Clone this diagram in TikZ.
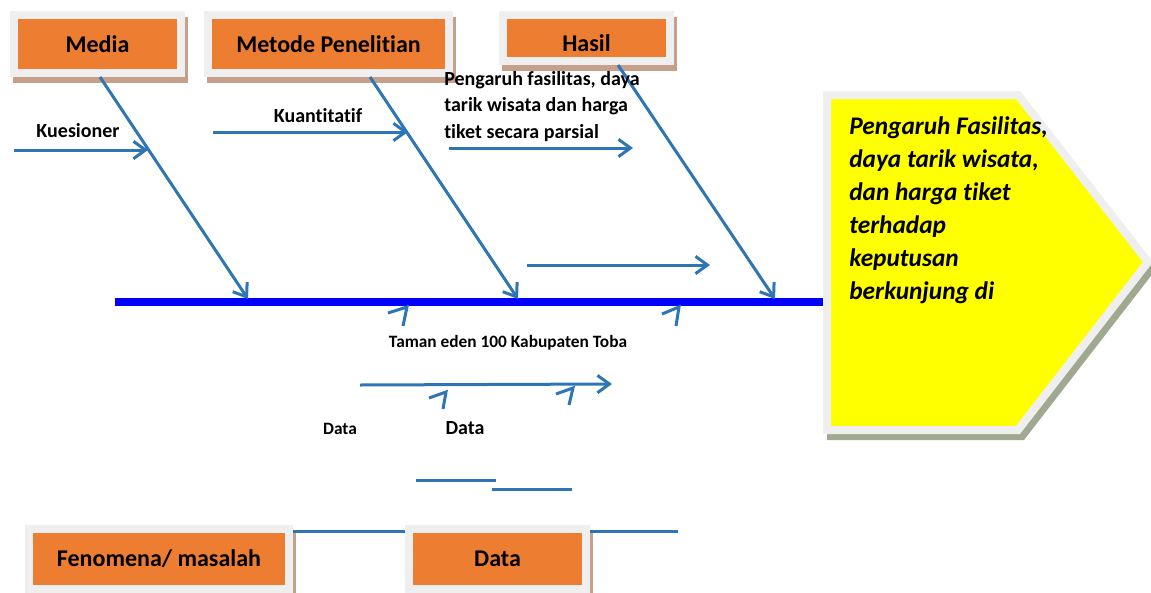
\documentclass[tikz,border=0pt]{standalone}
\usepackage{fontspec}
\setmainfont{Carlito}[Ligatures={NoCommon}]
\usetikzlibrary{arrows.meta,calc}
\definecolor{oranye}{HTML}{ED7D31}
\definecolor{bingkai}{HTML}{EFEFEF}
\definecolor{bayang}{HTML}{C6A08A}
\definecolor{bayanghijau}{HTML}{A0A88F}
\definecolor{garis}{HTML}{2E75B6}
\definecolor{tulang}{HTML}{0000FF}
\definecolor{kuning}{HTML}{FFFF00}
\tikzset{
  kotak/.style={draw=bingkai, fill=oranye, line width=6pt, inner sep=0pt,
    font=\bfseries\fontsize{18}{20}\selectfont,
    preaction={draw=bayang, fill=bayang, line width=6pt, transform canvas={shift={(3,6)}}}},
  panah/.style={draw=garis, line width=2.25pt, -{Straight Barb[length=9pt,width=13pt]}},
  potong/.style={draw=garis, line width=2.25pt, line join=miter},
  teks/.style={font=\bfseries\fontsize{15}{17}\selectfont, inner sep=0pt}
}
\begin{document}
\begin{tikzpicture}[x=0.75pt,y=-0.75pt]
  \useasboundingbox (0,0) rectangle (1151,592);
  % kepala ikan
  \draw[draw=bingkai, fill=kuning, line width=6pt, line join=miter,
    preaction={draw=bayanghijau, fill=bayanghijau, line width=6pt, transform canvas={shift={(4,6)}}}]
    (827,95) -- (1018,95) -- (1148,262) -- (1018,430) -- (827,430) -- cycle;
  \node[anchor=north west, align=left, inner sep=0pt,
    font=\bfseries\itshape\fontsize{19}{24.75}\selectfont] (tujuan) at (849,116)
    {Pengaruh Fasilitas,\\daya tarik wisata,\\dan harga tiket\\terhadap\\keputusan\\berkunjung di};
  \coordinate (ekor) at (115,302);
  \coordinate (kepala) at (823,302);
  \draw[draw=tulang, line width=6pt] (ekor) -- (kepala);
  \node[kotak, minimum width=125.25pt, minimum height=43.5pt] (media) at (97.5,44) {Media};
  \node[kotak, minimum width=180.75pt, minimum height=43.5pt] (metode) at (328.5,44) {Metode Penelitian};
  \node[kotak, minimum width=125.25pt, minimum height=34.5pt, text height=21pt, text depth=0pt] (hasil) at (586.5,38) {Hasil};
  \node[kotak, minimum width=195pt, minimum height=45pt] (fenomena) at (159,559) {Fenomena/ masalah};
  \node[kotak, minimum width=132.75pt, minimum height=45pt] (data) at (497.5,559) {Data};
  \coordinate (t1) at (248,299);
  \coordinate (t2) at (518,299);
  \coordinate (t3) at (775,299);
  \draw[panah] ($(media.south)+(2.5,0)$) -- (t1);
  \draw[panah] ($(metode.south)+(41.5,0)$) -- (t2);
  \draw[panah] ($(hasil.south)+(31.5,0)$) -- (t3);
  \node[teks] (kuesioner) at (78,131) {Kuesioner};
  \coordinate (k1) at (14,150);
  \coordinate (k2) at (148,150);
  \draw[panah] (k1) -- (k2);
  \node[teks] (kuantitatif) at (318,116) {Kuantitatif};
  \coordinate (q1) at (213,132);
  \coordinate (q2) at (408,132);
  \draw[panah] (q1) -- (q2);
  \node[teks, anchor=north west, align=left, font=\bfseries\fontsize{15}{19.9}\selectfont] (pengaruh) at (444,71)
    {Pengaruh fasilitas, daya\\tarik wisata dan harga\\tiket secara parsial};
  \coordinate (p1) at (449,148);
  \coordinate (p2) at (633,148);
  \draw[panah] (p1) -- (p2);
  \coordinate (h1) at (527,265);
  \coordinate (h2) at (710,265);
  \draw[panah] (h1) -- (h2);
  \draw[potong] (388,313) -- (407,307) -- (403,326);
  \draw[potong] (662,314) -- (679,307) -- (676,326);
  \node[teks, font=\bfseries\fontsize{13}{15}\selectfont] (taman) at (508,343) {Taman eden 100 Kabupaten Toba};
  \coordinate (d1) at (360,385);
  \coordinate (d2) at (612,384);
  \draw[panah] (d1) -- (d2);
  \draw[potong] (429,398) -- (446,392) -- (443,409);
  \draw[potong] (556,394) -- (573,388) -- (569,405);
  \node[teks, font=\bfseries\fontsize{13}{15}\selectfont] (data1) at (340,429) {Data};
  \node[teks] (data2) at (465,428) {Data};
  \draw[draw=garis, line width=2.25pt] (416,480) -- (496,480);
  \draw[draw=garis, line width=2.25pt] (492,489) -- (572,489);
  \draw[draw=garis, line width=2.25pt] ([yshift=-4.5pt]fenomena.north east) -- ([yshift=-4.5pt]data.north west);
  \draw[draw=garis, line width=2.25pt] ([yshift=-4.5pt]data.north east) -- ++(88,0);
\end{tikzpicture}
\end{document}
